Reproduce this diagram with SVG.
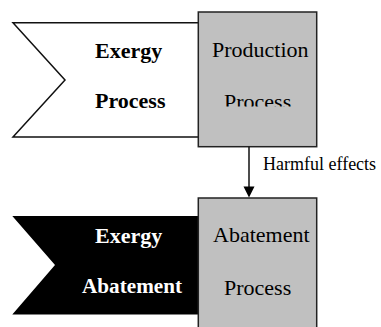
<svg xmlns="http://www.w3.org/2000/svg" width="381" height="327" viewBox="0 0 381 327">
<style>
.t{font-family:"Liberation Serif","Times New Roman",serif;font-size:22px}
.b{font-weight:bold}
.box{fill:#c0c0c0;stroke:#222;stroke-width:1.5}
.ln{stroke:#111;stroke-width:1.5;fill:none}
.ah{fill:#000}
</style>
<defs>
<clipPath id="c1"><rect x="198" y="12" width="119" height="94.5"/></clipPath>
</defs>
<rect width="381" height="327" fill="#fff"/>
<g id="exergy-process">
<path d="M198.5,22.7 L13,22.7 L65,80 L13,137 L198.5,137" fill="#fff" stroke="#111" stroke-width="1.5"/>
<text class="t b" x="95" y="58">Exergy</text>
<text class="t b" x="95" y="108">Process</text>
</g>
<g id="production-process">
<rect class="box" x="198.3" y="12" width="118.4" height="134.7"/>
<text class="t" x="212" y="57">Production</text>
<text class="t" x="224" y="108.5" clip-path="url(#c1)">Process</text>
</g>
<g id="exergy-abatement">
<path d="M198.5,216 L12.3,216 L55,265 L12.3,314.5 L198.5,314.5 Z" fill="#000"/>
<text class="t b" x="95" y="243" fill="#fff">Exergy</text>
<text class="t b" x="82" y="293" fill="#fff" style="font-size:21.2px">Abatement</text>
</g>
<g id="abatement-process">
<rect class="box" x="198.3" y="198" width="118.4" height="140"/>
<text class="t" x="213" y="242">Abatement</text>
<text class="t" x="224" y="295">Process</text>
</g>
<g id="connectors">
<line class="ln" x1="249" y1="146.7" x2="249" y2="188"/>
<path class="ah" d="M243.5,186.5 L254.5,186.5 L249,197.5 Z"/>
<text class="t" style="font-size:18px" x="263" y="170">Harmful effects</text>
</g>
</svg>
